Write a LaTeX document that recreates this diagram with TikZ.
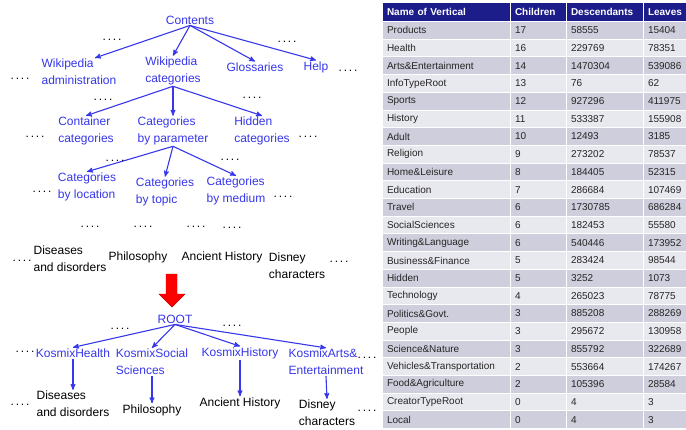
\documentclass[tikz,border=0pt]{standalone}
\usepackage{fontspec}
\setmainfont{Liberation Sans}
\usepackage{tikz}
\usetikzlibrary{arrows}
\usetikzlibrary{calc}
\definecolor{catblue}{RGB}{55,55,235}
\definecolor{headblue}{RGB}{28,28,138}
\definecolor{row1}{RGB}{206,206,220}
\definecolor{row0}{RGB}{232,232,239}
\newcommand{\fourdots}{.\kern1.8pt.\kern1.8pt.\kern1.8pt.}

\begin{document}
\begin{tikzpicture}[->,>=stealth',x=1pt,y=-1pt,font=\fontsize{12}{17}\selectfont]
		\tikzstyle{cat}=[catblue,align=left,inner sep=1pt];
		\tikzstyle{leaf}=[black,align=left,inner sep=1pt];
		\tikzstyle{more}=[black,inner sep=0pt];
		\tikzstyle{link}=[catblue,line width=1.1pt];
		\tikzstyle{cell}=[draw=white,line width=1pt,anchor=north west,
			minimum height=17.7pt,inner xsep=4.5pt,inner ysep=0pt,align=left,
			font=\fontsize{10}{12}\selectfont,text=black!85];
		\tikzstyle{head}=[fill=headblue,minimum height=19pt,text=white,
			font=\fontsize{10}{12}\selectfont\bfseries];
		\path[use as bounding box,fill=white](0,0)rectangle(686,429);

		% Wikipedia category tree
		\node[cat](contents)at(190,20){Contents};
		\node[cat](wadmin)at(79,72){Wikipedia\\administration};
		\node[cat](wcat)at(173,71){Wikipedia\\categories};
		\node[cat](gloss)at(255,67){Glossaries};
		\node[cat](help)at(316,67){Help};
		\node[cat](contain)at(86,131){Container\\categories};
		\node[cat](byparam)at(173,131){Categories\\by parameter};
		\node[cat](hidden)at(262,131){Hidden\\categories};
		\node[cat](byloc)at(87,187){Categories\\by location};
		\node[cat](bytopic)at(165,192){Categories\\by topic};
		\node[cat](bymedium)at(236,191){Categories\\by medium};
		\node[leaf](disease)at(70,259){Diseases\\and disorders};
		\node[leaf](philo)at(138,257){Philosophy};
		\node[leaf](ancient)at(222,257){Ancient History};
		\node[leaf](disney)at(297,266){Disney\\characters};

		\draw[link](contents.south)--([xshift=16pt]wadmin.north);
		\draw[link](contents.south)--(wcat.north);
		\draw[link](contents.south)--(gloss.north);
		\draw[link](contents.south)--(help.north);
		\draw[link](wcat.south)--(contain.north);
		\draw[link](wcat.south)--(byparam.north);
		\draw[link](wcat.south)--(hidden.north);
		\draw[link](byparam.south)--(byloc.north);
		\draw[link](byparam.south)--(bytopic.north);
		\draw[link](byparam.south)--(bymedium.north);

		% big arrow
		\draw[-,fill=red,draw=red!75!black,line width=0.4pt](166,274)--(177,274)--(177,294)
			--(185,294)--(172,307)--(159,294)--(166,294)--cycle;

		% Kosmix tree
		\node[cat](root)at(175,319){ROOT};
		\node[cat](khealth)at(73,353){KosmixHealth};
		\node[cat](ksocial)at(152,362){KosmixSocial\\Sciences};
		\node[cat](khistory)at(240,353){KosmixHistory};
		\node[cat](karts)at(326,362){KosmixArts\&\\Entertainment};
		\node[leaf,below of=khealth,node distance=51pt](disease2){Diseases\\and disorders};
		\node[leaf,below of=ksocial,node distance=48pt](philo2){Philosophy};
		\node[leaf,below of=khistory,node distance=50pt](ancient2){Ancient History};
		\node[leaf,below of=karts,node distance=51pt,xshift=1pt](disney2){Disney\\characters};

		\draw[link](root.south)--(khealth.north);
		\draw[link](root.south)--(ksocial.north);
		\draw[link](root.south)--(khistory.north);
		\draw[link](root.south)--(karts.north);
		\draw[link](khealth.south)--(disease2.north);
		\draw[link](ksocial.south)--(philo2.north);
		\draw[link](khistory.south)--(ancient2.north);
		\draw[link](karts.south)--(disney2.north);

		% elided siblings
		\foreach \x/\y [count=\k] in {112/40,287/42,20/79,348/71,103/100,252/98,35/137,308/137,
			115/161,230/160,42/192,283/197,90/227,143/227,196/227,232/228,22/261,339/262,
			120/329,232/326,25/352,367/358,20/405,367/411}
			\node[more](dots\k)at(\x,\y){\fourdots};

		% table of verticals
		\node[cell,head,text width=119pt](hname)at(382,2){Name of Vertical};
		\node[cell,head,text width=47pt](hchild)at(510,2){Children};
		\node[cell,head,text width=68pt](hdesc)at(566,2){Descendants};
		\node[cell,head,text width=34pt](hleaf)at(643,2){Leaves};
		\foreach \nm/\ch/\de/\lv [count=\i] in {Products/17/58555/15404,Health/16/229769/78351,
			Arts\&Entertainment/14/1470304/539086,InfoTypeRoot/13/76/62,Sports/12/927296/411975,
			History/11/533387/155908,Adult/10/12493/3185,Religion/9/273202/78537,
			Home\&Leisure/8/184405/52315,Education/7/286684/107469,Travel/6/1730785/686284,
			SocialSciences/6/182453/55580,Writing\&Language/6/540446/173952,
			Business\&Finance/5/283424/98544,Hidden/5/3252/1073,Technology/4/265023/78775,
			Politics\&Govt./3/885208/288269,People/3/295672/130958,Science\&Nature/3/855792/322689,
			Vehicles\&Transportation/2/553664/174267,Food\&Agriculture/2/105396/28584,
			CreatorTypeRoot/0/4/3,Local/0/4/3}{
			\pgfmathsetmacro\yt{21+(\i-1)*17.7}
			\pgfmathtruncatemacro\rc{mod(\i,2)}
			\node[cell,fill=row\rc,text width=119pt](name\i)at(382,\yt){\nm};
			\node[cell,fill=row\rc,text width=47pt](child\i)at(510,\yt){\ch};
			\node[cell,fill=row\rc,text width=68pt](desc\i)at(566,\yt){\de};
			\node[cell,fill=row\rc,text width=34pt](leaf\i)at(643,\yt){\lv};
		}
	\end{tikzpicture}
\end{document}
